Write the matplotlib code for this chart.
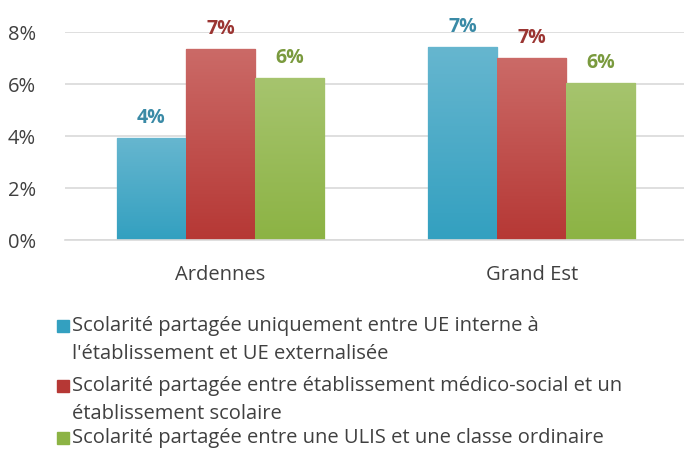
import matplotlib.pyplot as plt
import numpy as np
from matplotlib.colors import LinearSegmentedColormap

plt.rcParams['font.family'] = ['Open Sans', 'DejaVu Sans']

# data
categories = ['Ardennes', 'Grand Est']
series_names = [
    "Scolarité partagée uniquement entre UE interne à\nl'établissement et UE externalisée",
    "Scolarité partagée entre établissement médico-social et un\nétablissement scolaire",
    "Scolarité partagée entre une ULIS et une classe ordinaire",
]
values = [
    [3.92, 7.42],   # UE interne / externalisée
    [7.35, 7.00],   # médico-social / scolaire
    [6.23, 6.04],   # ULIS / classe ordinaire
]
value_labels = [
    ['4%', '7%'],
    ['7%', '7%'],
    ['6%', '6%'],
]

# colours (top, bottom of the gradient, label colour)
tops = ['#66b6cf', '#cb6a67', '#a6c46e']
bottoms = ['#33a0c0', '#b63835', '#8cb344']
edges = ['#7cc3d8', '#d27b78', '#b3cd83']
label_colors = ['#3a8aa6', '#9b3532', '#7a9a3e']
text_col = '#404040'

fig = plt.figure(figsize=(6.84, 4.73), dpi=100)
ax = fig.add_axes([0.095, 0.4926, 0.91, 0.4397])

x = np.arange(len(categories))
width = 0.222
offsets = [-width, 0, width]

for i in range(3):
    bars = ax.bar(x + offsets[i], values[i], width, color=bottoms[i],
                  edgecolor=edges[i], linewidth=1, zorder=2)
    cmap = LinearSegmentedColormap.from_list('g%d' % i, [tops[i], bottoms[i]])
    for b, lab in zip(bars, value_labels[i]):
        x0, y0 = b.get_x(), b.get_y()
        w, h = b.get_width(), b.get_height()
        grad = np.linspace(0, 1, 100).reshape(-1, 1)
        im = ax.imshow(grad, cmap=cmap, aspect='auto', origin='upper',
                       extent=[x0, x0 + w, y0, y0 + h], zorder=2.5)
        im.set_clip_path(b)
        ax.annotate(lab, (x0 + w / 2, y0 + h), xytext=(0, 7),
                    textcoords='offset points', ha='center', va='bottom',
                    fontsize=14, fontweight='bold', color=label_colors[i],
                    annotation_clip=False)

ax.set_xlim(-0.5, 1.5)
ax.set_ylim(0, 8)
ax.set_yticks([0, 2, 4, 6, 8])
ax.set_yticklabels(['0%', '2%', '4%', '6%', '8%'], fontsize=14.5, color=text_col)
ax.set_xticks(x)
ax.set_xticklabels(categories, fontsize=14.5, color=text_col)
ax.tick_params(axis='y', length=0, pad=21)
ax.tick_params(axis='x', length=0, pad=18)
ax.grid(axis='y', color='#d9d9d9', linewidth=1.2, zorder=0)
ax.set_axisbelow(True)
for s in ['top', 'right', 'left']:
    ax.spines[s].set_visible(False)
ax.spines['bottom'].set_color('#d9d9d9')
ax.spines['bottom'].set_linewidth(1.2)

# legend drawn by hand so the marker sits on the first line
leg_y = [326, 386, 438]
for i, name in enumerate(series_names):
    yy = 1 - leg_y[i] / 473
    fig.patches.append(plt.Rectangle((57 / 684, yy - 6 / 473), 12 / 684, 12 / 473,
                                     transform=fig.transFigure, color=bottoms[i]))
    fig.text(72 / 684, yy + 10 / 473, name, fontsize=14.5, color=text_col,
             va='top', ha='left', linespacing=1.5)

fig.savefig('out.png', dpi=100)
